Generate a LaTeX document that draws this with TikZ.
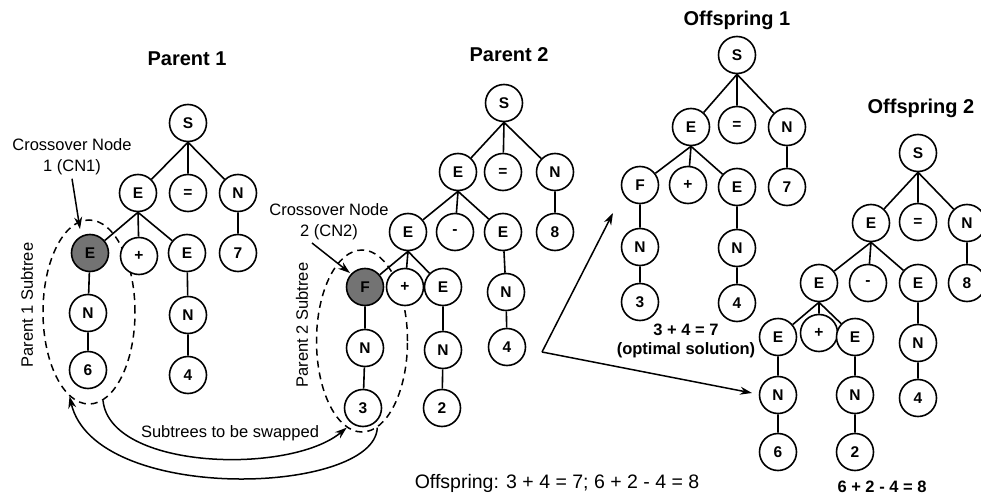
\documentclass[tikz,border=0pt]{standalone}
\usepackage{fontspec}
\setmainfont{Liberation Sans}
\usetikzlibrary{arrows.meta, shapes.geometric}

\tikzset{
  gnode/.style={circle, draw, fill=white, line width=1.6pt, minimum size=37pt, inner sep=0pt, font=\bfseries\fontsize{15.5}{18}\selectfont},
  xnode/.style={gnode, fill=black!55},
  ttl/.style={font=\bfseries\fontsize{20}{24}\selectfont},
  lbl/.style={font=\fontsize{16.5}{21}\selectfont, align=center},
  res/.style={font=\bfseries\fontsize{16.5}{19}\selectfont, align=center},
  subtree/.style={ellipse, draw, dash pattern=on 7pt off 5pt, line width=1.5pt, inner sep=0pt},
  tline/.style={line width=1.6pt},
  arr/.style={line width=1.5pt, -{Stealth[length=12pt, width=8pt]}},
}

\begin{document}
\begin{tikzpicture}[x=1pt, y=-1pt]
    \useasboundingbox (0,0) rectangle (981,497);

    % Subtree outlines
    \node[subtree, minimum width=92pt, minimum height=184pt] (sub1) at (89,312) {};
    \node[subtree, minimum width=91pt, minimum height=182pt] (sub2) at (362,341) {};

    % Parent 1
    \node[ttl] (t1) at (187,59) {Parent 1};
    \node[gnode] (p1s) at (188,123) {S};
    \node[gnode] (p1e) at (138,193) {E};
    \node[gnode] (p1eq) at (188,193) {=};
    \node[gnode] (p1n) at (238,193) {N};
    \node[xnode] (p1x) at (90,253) {E};
    \node[gnode] (p1plus) at (139,256) {+};
    \node[gnode] (p1e2) at (187,253) {E};
    \node[gnode] (p1seven) at (238,253) {7};
    \node[gnode] (p1xn) at (88,313) {N};
    \node[gnode] (p1six) at (88,370) {6};
    \node[gnode] (p1e2n) at (188,315) {N};
    \node[gnode] (p1four) at (188,375) {4};

    \draw[tline] (p1s.south) -- (p1e) (p1s.south) -- (p1eq) (p1s.south) -- (p1n)
        (p1e.south) -- (p1x) (p1e.south) -- (p1plus) (p1e.south) -- (p1e2)
        (p1n) -- (p1seven) (p1x) -- (p1xn) -- (p1six) (p1e2) -- (p1e2n) -- (p1four);

    % Parent 2
    \node[ttl] (t2) at (509,55) {Parent 2};
    \node[gnode] (p2s) at (504,103) {S};
    \node[gnode] (p2e) at (458,172) {E};
    \node[gnode] (p2eq) at (503,172) {=};
    \node[gnode] (p2n) at (555,172) {N};
    \node[gnode] (p2ee) at (408,232) {E};
    \node[gnode] (p2minus) at (455,232) {-};
    \node[gnode] (p2e3) at (503,232) {E};
    \node[gnode] (p2eight) at (555,232) {8};
    \node[xnode] (p2f) at (365,287) {F};
    \node[gnode] (p2plus) at (405,287) {+};
    \node[gnode] (p2e4) at (443,287) {E};
    \node[gnode] (p2e3n) at (506,292) {N};
    \node[gnode] (p2fn) at (365,348) {N};
    \node[gnode] (p2three) at (363,408) {3};
    \node[gnode] (p2e4n) at (443,350) {N};
    \node[gnode] (p2two) at (442,408) {2};
    \node[gnode] (p2four) at (507,347) {4};

    \draw[tline] (p2s.south) -- (p2e) (p2s.south) -- (p2eq) (p2s.south) -- (p2n)
        (p2e.south) -- (p2ee) (p2e.south) -- (p2minus) (p2e.south) -- (p2e3)
        (p2n) -- (p2eight)
        (p2ee.south) -- (p2f) (p2ee.south) -- (p2plus) (p2ee.south) -- (p2e4)
        (p2e3) -- (p2e3n) -- (p2four) (p2f) -- (p2fn) -- (p2three) (p2e4) -- (p2e4n) -- (p2two);

    % Offspring 1
    \node[ttl] (t3) at (737,20) {Offspring 1};
    \node[gnode] (o1s) at (737,55) {S};
    \node[gnode] (o1e) at (691,127) {E};
    \node[gnode] (o1eq) at (737,125) {=};
    \node[gnode] (o1n) at (787,127) {N};
    \node[gnode] (o1f) at (640,185) {F};
    \node[gnode] (o1plus) at (688,185) {+};
    \node[gnode] (o1e2) at (737,187) {E};
    \node[gnode] (o1seven) at (787,187) {7};
    \node[gnode] (o1fn) at (640,247) {N};
    \node[gnode] (o1three) at (640,302) {3};
    \node[gnode] (o1e2n) at (737,248) {N};
    \node[gnode] (o1four) at (737,303) {4};

    \draw[tline] (o1s.south) -- (o1e) (o1s.south) -- (o1eq) (o1s.south) -- (o1n)
        (o1e.south) -- (o1f) (o1e.south) -- (o1plus) (o1e.south) -- (o1e2)
        (o1n) -- (o1seven) (o1f) -- (o1fn) -- (o1three) (o1e2) -- (o1e2n) -- (o1four);

    \node[res] (r1) at (686,341) {3 + 4 = 7\\(optimal solution)};

    % Offspring 2
    \node[ttl] (t4) at (921,108) {Offspring 2};
    \node[gnode] (o2s) at (918,153) {S};
    \node[gnode] (o2e) at (871,223) {E};
    \node[gnode] (o2eq) at (918,222) {=};
    \node[gnode] (o2n) at (967,223) {N};
    \node[gnode] (o2ee) at (819,283) {E};
    \node[gnode] (o2minus) at (868,283) {-};
    \node[gnode] (o2e3) at (918,283) {E};
    \node[gnode] (o2eight) at (967,283) {8};
    \node[gnode] (o2e4) at (778,337) {E};
    \node[gnode] (o2plus) at (819,333) {+};
    \node[gnode] (o2e5) at (855,337) {E};
    \node[gnode] (o2e4n) at (778,395) {N};
    \node[gnode] (o2six) at (778,452) {6};
    \node[gnode] (o2e5n) at (855,395) {N};
    \node[gnode] (o2two) at (855,452) {2};
    \node[gnode] (o2e3n) at (918,343) {N};
    \node[gnode] (o2four) at (918,398) {4};

    \draw[tline] (o2s.south) -- (o2e) (o2s.south) -- (o2eq) (o2s.south) -- (o2n)
        (o2e.south) -- (o2ee) (o2e.south) -- (o2minus) (o2e.south) -- (o2e3)
        (o2n) -- (o2eight)
        (o2ee.south) -- (o2e4) (o2ee.south) -- (o2plus) (o2ee.south) -- (o2e5)
        (o2e4) -- (o2e4n) -- (o2six) (o2e5) -- (o2e5n) -- (o2two) (o2e3) -- (o2e3n) -- (o2four);

    \node[res] (r2) at (882,487) {6 + 2 - 4 = 8};

    % Crossover nodes and subtree labels
    \node[lbl] (cn1) at (72,157) {Crossover Node\\1 (CN1)};
    \node[lbl] (cn2) at (329,222) {Crossover Node\\2 (CN2)};
    \coordinate (cn1tip) at (80,229);
    \coordinate (cn2tip) at (350,273);
    \draw[arr] (cn1.south) -- (cn1tip);
    \draw[arr] (312,243) -- (cn2tip);

    \node[lbl, rotate=90] (st1) at (27,305) {Parent 1 Subtree};
    \node[lbl, rotate=90] (st2) at (302,325) {Parent 2 Subtree};

    % Swap arrows
    \node[lbl] (swp) at (230,433) {Subtrees to be swapped};
    \draw[arr] (sub1.-81) .. controls (110,470) and (290,475) .. (sub2.-100);
    \draw[arr] (sub2.-80) .. controls (375,495) and (95,505) .. (sub1.-103);

    % Arrows to the offspring
    \coordinate (vtx) at (542,352);
    \coordinate (to1) at (613,213);
    \coordinate (to2) at (752,393);
    \draw[arr] (vtx) -- (to1);
    \draw[arr] (vtx) -- (to2);

    \node[font=\fontsize{19.5}{23}\selectfont] (sum) at (557,483) {Offspring: 3 + 4 = 7; 6 + 2 - 4 = 8};
\end{tikzpicture}
\end{document}
